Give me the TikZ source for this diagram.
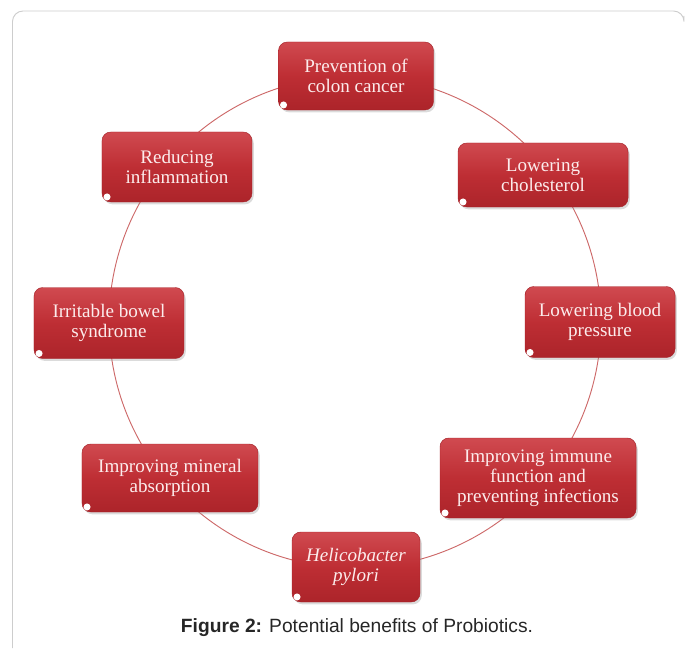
\documentclass[tikz,border=0pt]{standalone}
\usepackage{fontspec}
\setmainfont{Liberation Serif}
\newfontfamily\captionfont{Liberation Sans}
\usetikzlibrary{shadows}
\definecolor{boxred}{RGB}{190,46,52}
\definecolor{boxtop}{RGB}{208,74,80}
\definecolor{boxbottom}{RGB}{172,36,42}
\definecolor{boxedge}{RGB}{165,32,38}
\definecolor{boxtext}{RGB}{252,236,236}
\definecolor{ringred}{RGB}{205,105,105}
\definecolor{framegrey}{RGB}{205,205,205}
\tikzset{
  benefit/.style={
    rectangle,
    rounded corners=7.5pt,
    draw=boxedge,
    line width=0.4pt,
    top color=boxtop,
    bottom color=boxbottom,
    middle color=boxred,
    text=boxtext,
    align=center,
    inner sep=0pt,
    font=\fontsize{16.3}{17}\selectfont,
    drop shadow={shadow xshift=1.5pt, shadow yshift=-2pt, fill=black!40, opacity=0.35}
  },
  ring/.style={draw=ringred, line width=0.8pt},
  frame/.style={draw=framegrey, line width=0.8pt, rounded corners=9pt},
  gloss/.style={fill=white, draw=none}
}
\begin{document}
\begin{tikzpicture}[x=0.03cm, y=-0.03cm]
  \useasboundingbox (0,0) rectangle (685,648);
  \draw[frame] (12.5,648) -- (12.5,11) -- (684,11) -- (684,16);
  % ring behind the boxes
  \draw[ring] (355,322) circle[radius=246];
  \node[benefit, minimum width=4.65cm, minimum height=2.04cm] (colon) at (356,76)
    {Prevention of\\colon cancer};
  \node[benefit, minimum width=5.1cm, minimum height=1.92cm] (chol) at (543,175)
    {Lowering\\cholesterol};
  \node[benefit, minimum width=4.5cm, minimum height=2.13cm] (blood) at (600,322)
    {Lowering blood\\pressure};
  \node[benefit, minimum width=5.88cm, minimum height=2.4cm] (immune) at (538,478)
    {Improving immune\\function and\\preventing infections};
  \node[benefit, minimum width=3.84cm, minimum height=2.1cm] (pylori) at (356,567)
    {\itshape Helicobacter\\\itshape pylori};
  \node[benefit, minimum width=5.28cm, minimum height=2.04cm] (mineral) at (170,478)
    {Improving mineral\\absorption};
  \node[benefit, minimum width=4.5cm, minimum height=2.13cm] (bowel) at (109,323)
    {Irritable bowel\\syndrome};
  \node[benefit, minimum width=4.5cm, minimum height=2.1cm] (inflam) at (177,167)
    {Reducing\\inflammation};
  % small gloss dots in the lower left corners
  \foreach \b in {colon,chol,blood,immune,pylori,mineral,bowel,inflam}
    \fill[gloss] ([xshift=4.5pt, yshift=4.5pt]\b.south west) circle[radius=3pt];
  \node[text=black!85, font=\captionfont\fontsize{16.4}{19}\selectfont] (caption) at (357,628)
    {\textbf{Figure 2:} Potential benefits of Probiotics.};
\end{tikzpicture}
\end{document}
